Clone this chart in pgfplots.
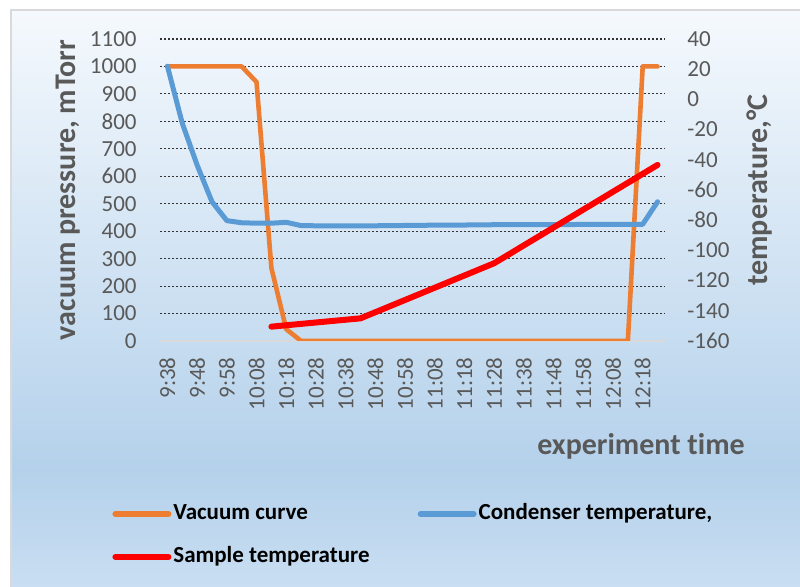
\documentclass[border=0pt]{standalone}
\usepackage{fontspec}
\setmainfont{Carlito}[Ligatures=NoCommon]
\usepackage{pgfplots}
\pgfplotsset{compat=1.18}
\definecolor{vac}{HTML}{ED7D31}
\definecolor{cond}{HTML}{5B9BD5}
\definecolor{samp}{HTML}{FF0000}
\definecolor{tickc}{HTML}{595959}
\definecolor{bgtop}{HTML}{F5F9FD}
\definecolor{bgmid}{HTML}{B4D1EB}
\definecolor{bgbot}{HTML}{C9DEF2}
\definecolor{bord}{HTML}{D9D9D9}

\pgfplotstableread{
i vac
0 1000
1 1000
2 1000
3 1000
4 1000
5 1000
6 943
7 266
8 43
9 0
10 0
11 0
12 0
13 0
14 0
15 0
16 0
17 0
18 0
19 0
20 0
21 0
22 0
23 0
24 0
25 0
26 0
27 0
28 0
29 0
30 0
31 0
32 1000
33 1000
}\vactable

\pgfplotstableread{
i cond
0 22
1 -15.8
2 -43.5
3 -67.8
4 -80.3
5 -81.7
6 -82
7 -82
8 -81.4
9 -83.6
10 -83.7
11 -83.8
12 -83.8
13 -83.8
14 -83.7
15 -83.6
16 -83.5
17 -83.4
18 -83.3
19 -83.2
20 -83.2
21 -83.1
22 -83.0
23 -83.0
24 -83.0
25 -82.9
26 -82.9
27 -82.9
28 -82.8
29 -82.8
30 -82.8
31 -82.8
32 -82.7
33 -67.8
}\condtable

\pgfplotstableread{
i samp
7 -150.5
13 -145
22 -108.5
33 -43.4
}\samptable

\begin{document}
\begin{tikzpicture}
\useasboundingbox (0,0) rectangle (400pt,293.5pt);
\fill[white] (0,0) rectangle (400pt,293.5pt);
\shade[top color=bgtop, bottom color=bgmid] (5.5pt,58.4pt) rectangle (400pt,288.5pt);
\shade[top color=bgmid, bottom color=bgbot] (5.5pt,0pt) rectangle (400pt,58.6pt);
\draw[bord, line width=1pt] (5.5pt,0) -- (5.5pt,288.5pt) -- (400pt,288.5pt);

\pgfplotsset{
  common/.style={
    at={(80pt,123pt)}, anchor=south west, scale only axis,
    width=252.5pt, height=151pt,
    xmin=-0.5, xmax=33.5,
    major tick length=0pt,
    /pgf/number format/assume math mode=true,
    /pgf/number format/1000 sep={},
    ticklabel style={font=\fontsize{11.5}{13}\selectfont, text=tickc},
    label style={font=\fontsize{15}{18}\selectfont\bfseries, text=tickc},
  }
}

\begin{axis}[
  common,
  ymin=0, ymax=1100,
  xtick={0,2,...,32},
  xticklabels={9:38,9:48,9:58,10:08,10:18,10:28,10:38,10:48,10:58,11:08,11:18,11:28,11:38,11:48,11:58,12:08,12:18},
  ytick={100,200,...,1100},
  extra y ticks={0},
  extra y tick style={grid=none},
  axis x line*=bottom, axis y line*=left,
  x axis line style={bord, line width=1pt, -},
  y axis line style={draw=none},
  ymajorgrids,
  major grid style={black!80, line width=0.55pt, dash pattern=on 1.2pt off 0.8pt},
  yticklabel style={anchor=east, inner xsep=11.5pt, inner ysep=0pt},
  xticklabel style={rotate=90, anchor=east, inner xsep=8pt, inner ysep=0pt},
  ylabel={vacuum pressure, mTorr},
  ylabel style={at={(axis description cs:-0.182,0.5)}, anchor=center},
  xlabel={experiment time},
  xlabel style={at={(axis description cs:1.172,-0.377)}, anchor=base east},
]
\addplot[vac, line width=2.3pt, line join=round, line cap=round] table[x=i, y=vac] {\vactable};
\end{axis}

\begin{axis}[
  common,
  ymin=-160, ymax=40,
  ytick={-160,-140,...,40},
  hide x axis,
  axis y line*=right,
  y axis line style={draw=none},
  yticklabel style={anchor=west, inner xsep=11pt, inner ysep=0pt},
  ylabel={temperature,°C},
  ylabel style={at={(axis description cs:1.188,0.5)}, anchor=center, rotate=0},
  legend columns=2,
  legend style={at={(axis description cs:-0.095,-0.644)}, anchor=west,
    draw=none, fill=none, inner sep=0pt,
    font=\fontsize{11.5}{13}\selectfont\bfseries,
    nodes={inner xsep=1pt, inner ysep=0pt, text height=8pt, text depth=2.5pt},
    row sep=11pt,
    /tikz/every even column/.append style={column sep=23pt}},
  legend cell align=left,
  legend image code/.code={\draw[#1, line width=3pt, line cap=round] (0pt,0pt) -- (26.5pt,0pt);},
]
\addlegendimage{vac}
\addlegendentry{Vacuum curve}
\addplot[cond, line width=2.5pt, line join=round, line cap=round] table[x=i, y=cond] {\condtable};
\addlegendentry{Condenser temperature,}
\addplot[samp, line width=3pt, line join=round, line cap=round] table[x=i, y=samp] {\samptable};
\addlegendentry{Sample temperature}
\end{axis}
\end{tikzpicture}
\end{document}
